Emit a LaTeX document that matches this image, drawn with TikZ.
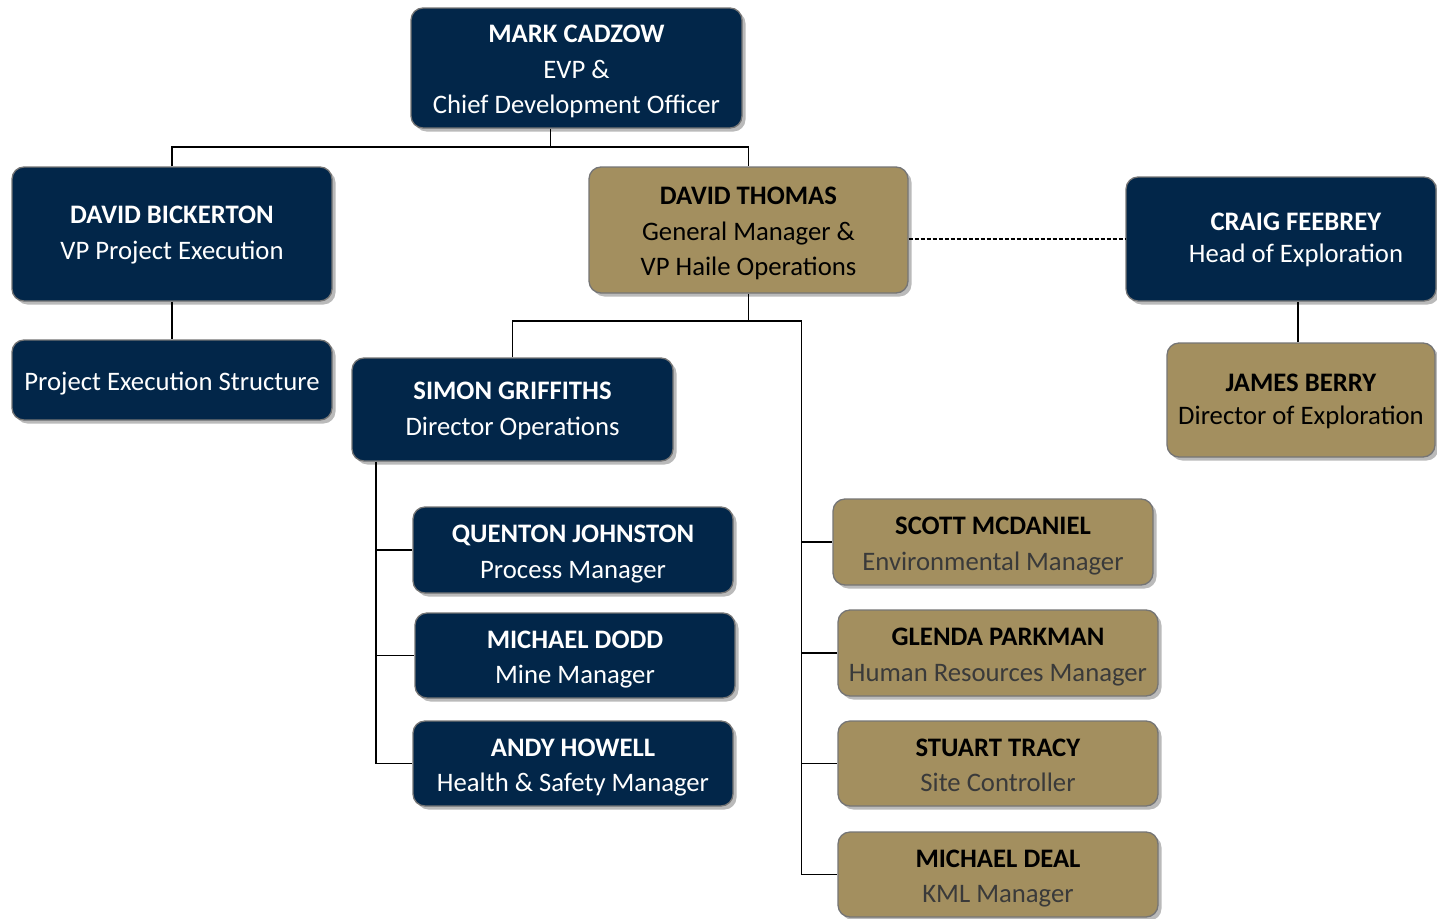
\documentclass[tikz,border=0pt]{standalone}
\usepackage{fontspec}
\setmainfont{Carlito}
\usetikzlibrary{shadows}
\definecolor{navy}{HTML}{022649}
\definecolor{tan}{HTML}{A38F5F}
\definecolor{subgrey}{HTML}{3A3A3A}
\definecolor{edgegrey}{HTML}{757575}
\begin{document}
\begin{tikzpicture}[x=1pt,y=-1pt,
  card/.style={rounded corners=12pt, draw=edgegrey, line width=1.3pt,
    drop shadow={shadow xshift=3.5pt, shadow yshift=-3.5pt, fill=black!30, opacity=0.9},
    inner sep=0pt, align=center, text height=24pt, text depth=3.5pt,
    font=\fontsize{26.7}{35.5}\selectfont},
  twolines/.style={text height=59.5pt},
  threelines/.style={text height=95pt},
  navycard/.style={card, fill=navy, text=white},
  tancard/.style={card, fill=tan, text=black},
  link/.style={line width=1.3pt, black}]
\useasboundingbox (0,0) rectangle (1437,918);
% nodes
\node[navycard, threelines, minimum width=331pt, minimum height=120pt] (mark) at (576.5,68)
  {\textbf{MARK CADZOW}\\EVP \&\\Chief Development Officer};
\node[navycard, text height=53.5pt, minimum width=320pt, minimum height=134pt] (bick) at (172,234)
  {\textbf{DAVID BICKERTON}\\VP Project Execution};
\node[navycard, minimum width=320pt, minimum height=80pt] (pes) at (172,380)
  {Project Execution Structure};
\node[tancard, threelines, minimum width=319pt, minimum height=126pt] (thomas) at (748.5,230)
  {\textbf{DAVID THOMAS}\\General Manager \&\\VP Haile Operations};
\node[navycard, text height=51pt, font=\fontsize{26.7}{32.5}\selectfont, minimum width=310pt, minimum height=124pt] (craig) at (1281,239)
  {\hspace*{30pt}\textbf{CRAIG FEEBREY}\\\hspace*{30pt}Head of Exploration};
\node[tancard, text height=53pt, font=\fontsize{26.7}{33.5}\selectfont, minimum width=268pt, minimum height=114pt] (james) at (1301,400)
  {\textbf{JAMES BERRY}\\Director of Exploration};
\node[navycard, text height=54.5pt, minimum width=321pt, minimum height=103pt] (simon) at (512.5,409.5)
  {\textbf{SIMON GRIFFITHS}\\Director Operations};
\node[navycard, twolines, minimum width=320pt, minimum height=86pt] (quenton) at (573,550)
  {\textbf{QUENTON JOHNSTON}\\Process Manager};
\node[navycard, twolines, minimum width=320pt, minimum height=85pt] (dodd) at (575,655.5)
  {\textbf{MICHAEL DODD}\\Mine Manager};
\node[navycard, twolines, minimum width=320pt, minimum height=85pt] (howell) at (573,763.5)
  {\textbf{ANDY HOWELL}\\Health \& Safety Manager};
\node[tancard, twolines, minimum width=320pt, minimum height=86pt] (scott) at (993,542)
  {\textbf{SCOTT MCDANIEL}\\\textcolor{subgrey}{Environmental Manager}};
\node[tancard, twolines, minimum width=320pt, minimum height=86pt] (glenda) at (998,653)
  {\textbf{GLENDA PARKMAN}\\\textcolor{subgrey}{Human Resources Manager}};
\node[tancard, twolines, minimum width=320pt, minimum height=85pt] (stuart) at (998,763.5)
  {\textbf{STUART TRACY}\\\textcolor{subgrey}{Site Controller}};
\node[tancard, twolines, minimum width=320pt, minimum height=85pt] (deal) at (998,874.5)
  {\textbf{MICHAEL DEAL}\\\textcolor{subgrey}{KML Manager}};
% junction coordinates
\coordinate (mj) at (550.7,147);
\coordinate (tj) at (748.5,321);
\coordinate (rv) at (801.5,321);
\coordinate (sv) at (376,461);
% connectors
\draw[link] (mj |- mark.south) -- (mj);
\draw[link] (bick.north) |- (thomas.north |- mj) -- (thomas.north);
\draw[link] (bick.south) -- (pes.north);
\draw[link, dash pattern=on 4pt off 2pt, line width=1.1pt] (thomas.east |- craig.west) -- (craig.west);
\draw[link] (james.north -| 1298,0) -- (craig.south -| 1298,0);
\draw[link] (thomas.south) -- (tj);
\draw[link] (simon.north) |- (rv) -- (rv |- deal.west) -- (deal.west);
\draw[link] (rv |- scott.west) -- (scott.west);
\draw[link] (rv |- glenda.west) -- (glenda.west);
\draw[link] (rv |- stuart.west) -- (stuart.west);
\draw[link] (sv |- simon.south) -- (sv |- howell.west) -- (howell.west);
\draw[link] (sv |- quenton.west) -- (quenton.west);
\draw[link] (sv |- dodd.west) -- (dodd.west);
\end{tikzpicture}
\end{document}
